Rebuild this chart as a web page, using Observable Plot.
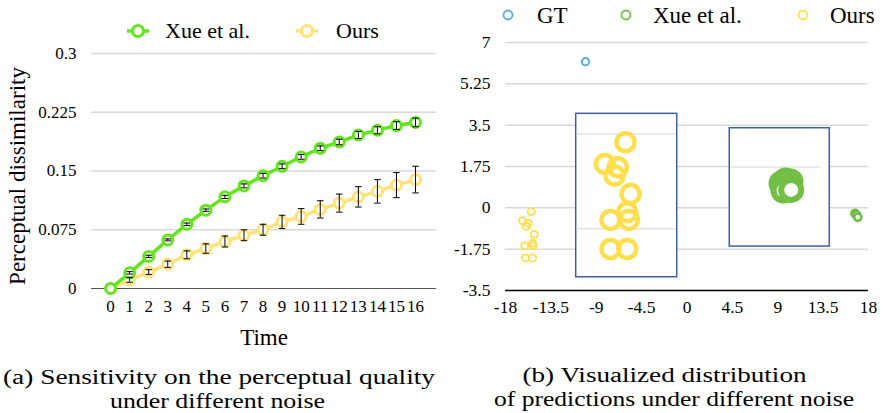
<!DOCTYPE html>
<html><head><meta charset="utf-8">
<script src="https://cdn.jsdelivr.net/npm/d3@7"></script>
<script src="https://cdn.jsdelivr.net/npm/@observablehq/plot@0.6"></script>
<style>
html,body{margin:0;padding:0;background:#fff;}
#wrap{position:relative;width:883px;height:413px;overflow:hidden;font-family:'Liberation Serif';}
#wrap > *{position:absolute;}
#pa{left:0;top:0;} #pb{left:440px;top:0;}
#ov{left:0;top:0;pointer-events:none;}
#wrap svg, #wrap svg text{font-family:'Liberation Serif' !important;}
g[aria-label="x-axis label"] text{font-size:23px;}
</style>
</head><body><div id="wrap"><div id="pa"></div><div id="pb"></div></div>
<script>
// ---------- Panel (a) data ----------
const times = [0,1,2,3,4,5,6,7,8,9,10,11,12,13,14,15,16];
const xueMean = [0,0.020,0.041,0.062,0.082,0.100,0.117,0.131,0.144,0.156,0.168,0.179,0.187,0.196,0.202,0.208,0.212];
const xueErr  = [0,0.0015,0.0015,0.0012,0.0015,0.0015,0.002,0.0025,0.003,0.003,0.003,0.003,0.0035,0.0045,0.0045,0.005,0.0055];
const oursMean = [0,0.011,0.021,0.031,0.043,0.051,0.060,0.068,0.075,0.085,0.092,0.101,0.109,0.117,0.124,0.132,0.139];
const oursErr  = [0,0.003,0.003,0.004,0.005,0.006,0.007,0.007,0.007,0.0085,0.010,0.011,0.0115,0.013,0.015,0.016,0.017];
const yTicksA = [0,0.075,0.15,0.225,0.3];
const seriesA = ["Xue et al.","Ours"];
const yTitleA = "Perceptual dissimilarity";

// ---------- Panel (b) data ----------
const xTicksB = [-18,-13.5,-9,-4.5,0,4.5,9,13.5,18];
const yTicksB = [-3.5,-1.75,0,1.75,3.5,5.25,7];
const seriesB = ["GT","Xue et al.","Ours"];
const gtX = [-10.07]; const gtY = [6.19];
const oursSmallX = [-15.45,-16.31,-15.75,-15.92,-15.15,-16.09,-15.32,-15.25,-16.02,-15.32];
const oursSmallY = [-0.16,-0.55,-0.65,-0.78,-1.12,-1.61,-1.50,-1.60,-2.12,-2.12];
const xueSmallX = [16.66,16.81,16.94];
const xueSmallY = [-0.24,-0.30,-0.40];
const oursBigX = [-6.10,-8.15,-6.86,-7.19,-5.60,-5.93,-7.59,-5.77,-7.59,-5.93];
const oursBigY = [2.78,1.86,1.72,1.37,0.59,-0.19,-0.51,-0.51,-1.74,-1.74];
const xueBigX = [9.37,9.77,10.26,9.97,9.57,10.33];
const xueBigY = [1.03,1.16,1.12,0.90,0.73,0.76];
const boxX1 = [-10.99,4.24], boxX2 = [-0.97,14.16], boxY1 = [-2.94,-1.64], boxY2 = [3.98,3.37];
const insetGridY = [3.13,-0.89,1.73], insetGridX1 = [-10.99,-10.99,4.24], insetGridX2 = [-0.97,-0.97,13.3];

// ---------- colours ----------
const GA = "#62e51c", YA = "#ffe27a";
const GB = "#71bf45", YB = "#ffdf4c", BB = "#5aa9f4", BOX = "#3d5fa8";
const FONT = "Liberation Serif";

const rowsX = times.map((t,i)=>({t, v:xueMean[i], e:xueErr[i]}));
const rowsO = times.map((t,i)=>({t, v:oursMean[i], e:oursErr[i]}));
const rowsAll = rowsO.concat(rowsX).filter(d=>d.e>0);

const pa = Plot.plot({
  width:440, height:350, marginLeft:91, marginRight:4, marginTop:53, marginBottom:62,
  style:{fontFamily:FONT, fontSize:"17px", color:"#000", background:"transparent", overflow:"visible"},
  x:{domain:[-1,17.1], ticks:times, tickFormat:d=>String(d), tickSize:0, tickPadding:11,
     label:"Time", labelAnchor:"center", labelArrow:"none", labelOffset:56},
  y:{domain:[0,0.3], ticks:yTicksA, tickFormat:d=>String(d), tickSize:0, tickPadding:15, label:null},
  marks:[
    Plot.gridY(yTicksA.filter(d=>d>0), {stroke:"#d9d9d9", strokeOpacity:1, strokeWidth:1.5}),
    Plot.ruleY([0], {stroke:"#555", strokeWidth:1.2}),
    Plot.line(rowsO, {x:"t", y:"v", stroke:YA, strokeWidth:3.5}),
    Plot.dot(rowsO, {x:"t", y:"v", r:5, stroke:YA, strokeWidth:3, fill:"white"}),
    Plot.line(rowsX, {x:"t", y:"v", stroke:GA, strokeWidth:3.5}),
    Plot.dot(rowsX, {x:"t", y:"v", r:5, stroke:GA, strokeWidth:3, fill:"white"}),
    Plot.ruleX(rowsAll, {x:"t", y1:d=>d.v-d.e, y2:d=>d.v+d.e, stroke:"#000", strokeWidth:1}),
    Plot.link(rowsAll, {x1:d=>d.t-0.17, x2:d=>d.t+0.17, y1:d=>d.v-d.e, y2:d=>d.v-d.e, stroke:"#000", strokeWidth:1}),
    Plot.link(rowsAll, {x1:d=>d.t-0.17, x2:d=>d.t+0.17, y1:d=>d.v+d.e, y2:d=>d.v+d.e, stroke:"#000", strokeWidth:1})
  ]
});
document.getElementById("pa").appendChild(pa);

const pts = (xs,ys)=>xs.map((x,i)=>({x, y:ys[i]}));
const boxes = boxX1.map((x1,i)=>({x1, x2:boxX2[i], y1:boxY1[i], y2:boxY2[i]}));
const insetGrid = insetGridY.map((y,i)=>({y, x1:insetGridX1[i], x2:insetGridX2[i]}));

const pb = Plot.plot({
  width:443, height:330, marginLeft:65, marginRight:15, marginTop:42, marginBottom:40,
  style:{fontFamily:FONT, fontSize:"17.5px", color:"#000", background:"transparent", overflow:"visible"},
  x:{domain:[-18,18], ticks:xTicksB, tickFormat:d=>String(d), tickSize:0, tickPadding:10, label:null},
  y:{domain:[-3.5,7], ticks:yTicksB, tickFormat:d=>String(d), tickSize:0, tickPadding:15, label:null},
  marks:[
    Plot.gridY(yTicksB.filter(d=>d>-3.5), {stroke:"#d9d9d9", strokeOpacity:1, strokeWidth:1.5}),
    Plot.ruleY([-3.5], {stroke:"#000", strokeWidth:1.3}),
    Plot.dot(pts(gtX,gtY), {x:"x", y:"y", r:3.6, stroke:BB, strokeWidth:2, fill:"white"}),
    Plot.dot(pts(oursSmallX,oursSmallY), {x:"x", y:"y", r:3.5, stroke:YB, strokeWidth:1.9, fill:"none"}),
    Plot.dot(pts(xueSmallX,xueSmallY), {x:"x", y:"y", r:3.6, stroke:GB, strokeWidth:2.6, fill:"white"}),
    Plot.rect(boxes, {x1:"x1", x2:"x2", y1:"y1", y2:"y2", fill:"white", stroke:BOX, strokeWidth:1.5}),
    Plot.ruleY(insetGrid, {y:"y", x1:"x1", x2:"x2", stroke:"#e3e3e3", strokeWidth:1.5, inset:1}),
    Plot.dot(pts(oursBigX,oursBigY), {x:"x", y:"y", r:9, stroke:YB, strokeWidth:4.5, fill:"none"}),
    Plot.dot(pts(xueBigX,xueBigY), {x:"x", y:"y", r:10, stroke:GB, strokeWidth:6, fill:"white"})
  ]
});
document.getElementById("pb").appendChild(pb);

// ---------- legends, y title & captions (overlay) ----------
const ov = d3.select("#wrap").append("svg").attr("id","ov").attr("width",883).attr("height",413);
ov.append("text").attr("transform","translate(25,176) rotate(-90)").attr("text-anchor","middle")
  .attr("font-size",23).text(yTitleA);
const legA = {cx:[138,307], tx:[165,336], y:31, colors:[GA,YA]};
seriesA.forEach((name,i)=>{
  const g = ov.append("g");
  g.append("line").attr("x1",legA.cx[i]-11).attr("x2",legA.cx[i]+11).attr("y1",legA.y).attr("y2",legA.y)
    .attr("stroke",legA.colors[i]).attr("stroke-width",3.5);
  g.append("circle").attr("cx",legA.cx[i]).attr("cy",legA.y).attr("r",5.5).attr("fill","white")
    .attr("stroke",legA.colors[i]).attr("stroke-width",3.2);
  g.append("text").attr("x",legA.tx[i]).attr("y",legA.y+7).attr("font-size",22).text(name);
});
const legB = {cx:[508,626,803], tx:[537,653,830], y:15, colors:[BB,GB,YB]};
seriesB.forEach((name,i)=>{
  ov.append("circle").attr("cx",legB.cx[i]).attr("cy",legB.y).attr("r",4.5).attr("fill","white")
    .attr("stroke",legB.colors[i]).attr("stroke-width",1.8);
  ov.append("text").attr("x",legB.tx[i]).attr("y",legB.y+8).attr("font-size",23).text(name);
});
const captions = [
  {t:"(a) Sensitivity on the perceptual quality", x:3, w:432, y:383.5},
  {t:"under different noise", x:110, w:215, y:407.5},
  {t:"(b) Visualized distribution", x:522.5, w:284, y:381.5},
  {t:"of predictions under different noise", x:494, w:360, y:406}
];
captions.forEach(c=>{
  ov.append("text").attr("x",c.x).attr("y",c.y).attr("font-size",20)
    .attr("textLength",c.w).attr("lengthAdjust","spacingAndGlyphs").text(c.t);
});
d3.selectAll("#wrap svg").attr("font-family", FONT);
d3.selectAll("#wrap svg text").attr("font-family", FONT);
</script>
</body></html>
